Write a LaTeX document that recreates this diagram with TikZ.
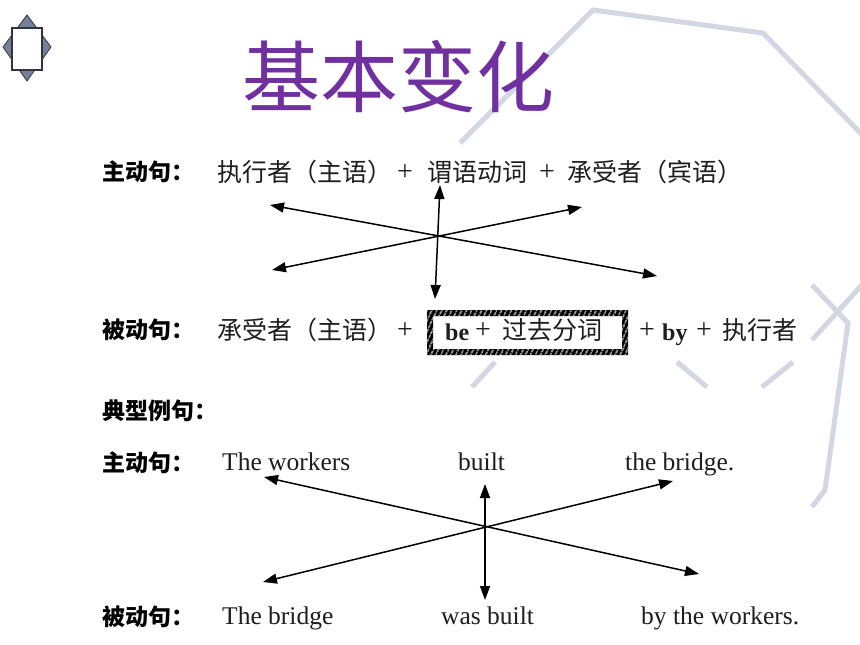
\documentclass[tikz,border=0pt]{standalone}
\usepackage{fontspec}
\setmainfont{Liberation Serif}
\newfontfamily\cjk{Noto Sans CJK SC}
\usetikzlibrary{arrows.meta,patterns.meta}
\definecolor{decoc}{HTML}{D3D7E2}
\definecolor{ttl}{HTML}{7030A0}
\definecolor{txt}{HTML}{1E1E1E}
\definecolor{icondark}{HTML}{30353F}
\definecolor{iconmid}{HTML}{76809A}
\begin{document}
\begin{tikzpicture}[x=1pt,y=-1pt,
  decoline/.style={draw=decoc, line width=5pt},
  zh/.style={font=\cjk\fontsize{25}{29}\selectfont, text=txt, inner sep=0pt, anchor=west},
  zhb/.style={font=\cjk\bfseries\fontsize{23}{28}\selectfont, text=black, inner sep=0pt, anchor=west},
  en/.style={font=\fontsize{25.5}{30}\selectfont, text=txt, inner sep=0pt, anchor=base west},
  plus/.style={font=\fontsize{28}{30}\selectfont, text=txt, inner sep=0pt, anchor=center},
  dbl/.style={{Triangle[length=14pt,width=10pt]}-{Triangle[length=14pt,width=10pt]}, line width=1.5pt, draw=black}
]
\useasboundingbox (0,0) rectangle (860,645);
\fill[white] (0,0) rectangle (860,645);

% decorative background lines
\draw[decoline, line join=miter] (460,143) -- (593,10) -- (763,33) -- (875,148);
\draw[decoline, line join=miter] (812,285) -- (848,323) -- (825,490) -- (812,507);
\draw[decoline] (870,276) -- (812,340);
\draw[decoline] (793,362) -- (762,387);
\draw[decoline] (495,362) -- (472,387);
\draw[decoline] (677,362) -- (707,387);

% top-left icon
\fill[iconmid, draw=icondark, line width=0.8pt] (27,15) -- (51,47) -- (27,81) -- (3,47) -- cycle;
\draw[fill=white, draw=icondark, line width=2.2pt] (12,28) rectangle (42,70);

% title
\node[font=\cjk\fontsize{78}{82}\selectfont, text=ttl, inner sep=0pt] (title) at (398,77) {基本变化};

% row 1
\node[zhb] (l1) at (102,172) {主动句：};
\node[zh] (r1a) at (217,172) {执行者（主语）};
\node[plus] (r1p1) at (405,173) {+};
\node[zh] (r1b) at (427,172) {谓语动词};
\node[plus] (r1p2) at (547,173) {+};
\node[zh] (r1c) at (567,172) {承受者（宾语）};

% arrows group 1
\coordinate (p1) at (270,205); \coordinate (q1) at (657,276);
\coordinate (p2) at (272,270); \coordinate (q2) at (582,207);
\coordinate (p3) at (440,185); \coordinate (q3) at (435,299);
\draw[dbl] (p1) -- (q1);
\draw[dbl] (p2) -- (q2);
\draw[dbl] (p3) -- (q3);

% row 2
\node[zhb] (l2) at (102,330) {被动句：};
\node[zh] (r2a) at (217,330) {承受者（主语）};
\node[plus] (r2p1) at (405,331) {+};
\fill[black, even odd rule] (427,310) rectangle (628,355) (433,316) rectangle (622,349);
\fill[pattern={Lines[angle=65,distance=4pt,line width=1.1pt]}, pattern color=white!80!gray, even odd rule] (427,310) rectangle (628,355) (433,316) rectangle (622,349);
\node[en, font=\bfseries\fontsize{24}{28}\selectfont] (be) at (445,340) {be};
\node[plus] (bep) at (483,331) {+};
\node[zh] (r2b) at (502,330) {过去分词};
\node[plus] (r2p2) at (647,331) {+};
\node[en, font=\bfseries\fontsize{24}{28}\selectfont] (by) at (662,340) {by};
\node[plus] (r2p3) at (704,331) {+};
\node[zh] (r2c) at (722,330) {执行者};

% row 3
\node[zhb] (l3) at (102,411) {典型例句：};

% row 4
\node[zhb] (l4) at (102,463) {主动句：};
\node[en] (e1) at (222,470) {The workers};
\node[en] (e2) at (458,470) {built};
\node[en] (e3) at (625,470) {the bridge.};

% arrows group 2
\coordinate (s1) at (264,477); \coordinate (t1) at (699,574);
\coordinate (s2) at (263,582); \coordinate (t2) at (673,481);
\coordinate (s3) at (485,484); \coordinate (t3) at (485,600);
\draw[dbl] (s1) -- (t1);
\draw[dbl] (s2) -- (t2);
\draw[dbl] (s3) -- (t3);

% row 5
\node[zhb] (l5) at (102,617) {被动句：};
\node[en] (f1) at (222,624) {The bridge};
\node[en] (f2) at (441,624) {was built};
\node[en] (f3) at (641,624) {by the workers.};
\end{tikzpicture}
\end{document}
